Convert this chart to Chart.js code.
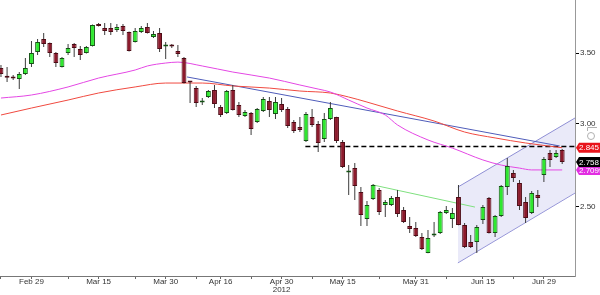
<!DOCTYPE html>
<html>
<head>
<meta charset="utf-8">
<title>Candles 2012</title>
<script src="https://cdn.jsdelivr.net/npm/chart.js@4.4.1/dist/chart.umd.min.js"></script>
<style>
  html, body { margin: 0; padding: 0; background: #fff; }
  .chartbox { position: relative; width: 600px; height: 295px; }
</style>
</head>
<body>
<div class="chartbox"><canvas id="chart"></canvas></div>
<script>
// trading days shown on the chart
const dates = ['Feb 22','Feb 23','Feb 24','Feb 27','Feb 28','Feb 29',
  'Mar 1','Mar 2','Mar 5','Mar 6','Mar 7','Mar 8','Mar 9','Mar 12','Mar 13','Mar 14','Mar 15','Mar 16','Mar 19','Mar 20','Mar 21','Mar 22','Mar 23','Mar 26','Mar 27','Mar 28','Mar 29','Mar 30',
  'Apr 2','Apr 3','Apr 4','Apr 5','Apr 10','Apr 11','Apr 12','Apr 13','Apr 16','Apr 17','Apr 18','Apr 19','Apr 20','Apr 23','Apr 24','Apr 25','Apr 26','Apr 27','Apr 30',
  'May 2','May 3','May 4','May 7','May 8','May 9','May 10','May 11','May 14','May 15','May 16','May 17','May 18','May 21','May 22','May 23','May 24','May 25','May 28','May 29','May 30','May 31',
  'Jun 1','Jun 4','Jun 5','Jun 6','Jun 7','Jun 8','Jun 11','Jun 12','Jun 13','Jun 14','Jun 15','Jun 18','Jun 19','Jun 20','Jun 21','Jun 22','Jun 25','Jun 26','Jun 27','Jun 28','Jun 29',
  'Jul 2','Jul 3','Jul 4'];

const open = [3.389,3.326,3.319,3.308,3.344,3.419,3.510,3.611,3.580,3.502,
  3.396,3.502,3.572,3.533,3.502,3.556,3.732,3.700,3.700,3.683,
  3.716,3.667,3.588,3.667,3.708,3.627,3.659,3.552,3.560,3.518,
  3.464,3.290,3.243,3.142,3.180,3.229,3.111,3.070,3.229,3.125,
  3.050,3.070,3.010,3.084,3.152,3.064,3.131,3.097,3.010,2.978,
  2.887,3.044,2.997,2.900,3.030,3.044,2.881,2.695,2.721,2.582,
  2.433,2.543,2.593,2.509,2.509,2.554,2.482,2.396,2.386,2.339,
  2.259,2.347,2.360,2.466,2.433,2.554,2.402,2.314,2.314,2.428,
  2.548,2.360,2.450,2.610,2.692,2.633,2.526,2.466,2.565,2.680,
  2.812,2.788,2.831];
const high = [3.411,3.396,3.337,3.359,3.464,3.596,3.611,3.659,3.584,3.510,
  3.472,3.572,3.580,3.556,3.556,3.728,3.740,3.740,3.740,3.732,
  3.732,3.671,3.700,3.716,3.740,3.675,3.700,3.588,3.572,3.564,
  3.472,3.292,3.258,3.173,3.229,3.265,3.125,3.229,3.265,3.145,
  3.091,3.077,3.104,3.180,3.180,3.180,3.173,3.111,3.023,3.044,
  3.077,3.097,3.017,3.070,3.145,3.046,2.894,2.739,2.751,2.610,
  2.531,2.628,2.605,2.537,2.559,2.593,2.498,2.444,2.417,2.360,
  2.376,2.417,2.477,2.504,2.493,2.622,2.412,2.350,2.402,2.509,
  2.554,2.455,2.622,2.782,2.710,2.651,2.554,2.588,2.593,2.788,
  2.831,2.831,2.837];
const low = [3.323,3.286,3.301,3.236,3.337,3.396,3.487,3.549,3.472,3.396,
  3.392,3.487,3.472,3.449,3.498,3.552,3.712,3.643,3.643,3.667,
  3.643,3.514,3.584,3.659,3.655,3.619,3.510,3.456,3.541,3.472,
  3.275,3.138,3.111,3.125,3.173,3.104,3.044,3.064,3.088,3.044,
  3.044,2.926,3.004,3.077,3.044,3.030,3.077,2.971,2.939,2.945,
  2.881,2.978,2.819,2.881,3.023,2.875,2.721,2.565,2.537,2.396,
  2.396,2.537,2.455,2.444,2.504,2.444,2.412,2.360,2.339,2.273,
  2.257,2.339,2.355,2.460,2.386,2.400,2.283,2.283,2.259,2.407,
  2.357,2.339,2.444,2.565,2.639,2.482,2.412,2.460,2.498,2.639,
  2.727,2.782,2.745];
const close = [3.344,3.318,3.311,3.344,3.389,3.502,3.588,3.572,3.502,3.426,
  3.464,3.541,3.541,3.487,3.549,3.724,3.716,3.675,3.667,3.708,
  3.675,3.518,3.675,3.700,3.659,3.651,3.533,3.560,3.552,3.495,
  3.279,3.282,3.138,3.150,3.222,3.131,3.057,3.222,3.091,3.057,
  3.077,2.964,3.097,3.166,3.091,3.145,3.091,2.984,2.951,2.958,
  3.064,2.991,2.875,3.030,3.104,2.887,2.727,2.701,2.616,2.455,
  2.509,2.622,2.471,2.526,2.548,2.460,2.417,2.381,2.344,2.278,
  2.334,2.353,2.471,2.482,2.466,2.402,2.288,2.288,2.391,2.498,
  2.360,2.450,2.616,2.734,2.662,2.504,2.439,2.576,2.548,2.776,
  2.770,2.812,2.758];

// moving averages (magenta = short, red = long), read at some days
const maShortIdx = [0,5,11,16,22,24,27,29,33,38,44,49,52,54,57,60,63,65,70,74,79,82,85,87,92];
const maShort = [3.173,3.194,3.251,3.315,3.374,3.404,3.426,3.433,3.404,3.359,3.315,3.265,3.236,3.215,3.159,3.104,3.057,2.991,2.894,2.843,2.770,2.739,2.721,2.710,2.7099];
const maLongIdx = [0,5,11,16,22,27,30,33,38,44,49,54,57,60,65,71,76,81,86,91,92];
const maLong = [3.057,3.104,3.159,3.208,3.251,3.279,3.279,3.279,3.258,3.243,3.222,3.208,3.180,3.145,3.084,3.017,2.945,2.907,2.875,2.850,2.845];

// drawn studies
const trendX = [30.5, 91.6];
const trendY = [3.323, 2.856];
const greenX = [61, 77.7];
const greenY = [2.622, 2.498];
const levelX = [49.9, 94.1];
const levelY = [2.853, 2.853];
const chanX = [74.9, 94.1];
const chanHigh = [2.610, 3.037];
const chanLow = [2.210, 2.576];

// axes
const tickDates = ['Feb 22','Feb 29','Mar 8','Mar 15','Mar 23','Mar 30','Apr 10','Apr 16','Apr 23','Apr 30','May 8','May 15','May 23','May 31','Jun 7','Jun 15','Jun 22','Jun 29'];
const labelDates = ['Feb 29','Mar 15','Mar 30','Apr 16','Apr 30','May 15','May 31','Jun 15','Jun 29'];
const yearDate = 'Apr 30';
const yearText = '2012';
const yTicks = [2.5, 3.0, 3.5];
const xMin = -0.16;
const xMax = 94.1;
const yMin = 2.1475;
const yMax = 3.934;

const FONT = '"Liberation Sans", Arial, sans-serif';
Chart.defaults.font.family = FONT;

const pts = (xs, ys) => xs.map((x, i) => ({ x, y: ys[i] }));
const up = close.map((c, i) => c >= open[i]);

const tags = [
  { value: maShort[maShort.length - 1], text: maShort[maShort.length - 1].toFixed(4), color: '#e22ee2' },
  { value: close[close.length - 1], text: close[close.length - 1].toFixed(3), color: '#000000' },
  { value: maLong[maLong.length - 1], text: maLong[maLong.length - 1].toFixed(3), color: '#e8141c' },
];

const tagPlugin = {
  id: 'tags',
  afterDraw: (chart) => {
    const { ctx } = chart;
    const ys = chart.scales.y;
    const left = chart.chartArea.right;
    const right = chart.width;
    ctx.save();
    ctx.font = '8px ' + FONT;
    ctx.textBaseline = 'middle';
    tags.forEach((t) => {
      const py = ys.getPixelForValue(t.value);
      ctx.fillStyle = t.color;
      ctx.beginPath();
      ctx.moveTo(left + 1, py);
      ctx.lineTo(left + 4, py - 5);
      ctx.lineTo(right, py - 5);
      ctx.lineTo(right, py + 5);
      ctx.lineTo(left + 4, py + 5);
      ctx.closePath();
      ctx.fill();
      ctx.fillStyle = '#fff';
      ctx.fillText(t.text, left + 4, py + 0.5);
    });
    // little zoom knob on the price axis
    ctx.strokeStyle = '#b0b0b0';
    ctx.lineWidth = 1;
    ctx.beginPath();
    ctx.arc(591, 136, 3.5, 0, Math.PI * 2);
    ctx.stroke();
    ctx.beginPath();
    ctx.moveTo(587.5, 131);
    ctx.lineTo(587.5, 127.5);
    ctx.lineTo(597, 127.5);
    ctx.stroke();
    ctx.restore();
  },
};

const tickText = (v) => {
  const d = dates[v];
  if (!labelDates.includes(d)) return '';
  return d === yearDate ? [d, yearText] : d;
};

const lineSet = (data, color, extra) => Object.assign({
  type: 'line', data, borderColor: color, borderWidth: 1, pointRadius: 0,
  tension: 0.4, cubicInterpolationMode: 'monotone', fill: false, order: 2,
}, extra || {});

new Chart(document.getElementById('chart').getContext('2d'), {
  type: 'bar',
  data: {
    datasets: [
      {
        label: 'body',
        data: dates.map((d, i) => ({ x: i, y: [open[i], close[i]] })),
        backgroundColor: up.map((u) => (u ? '#2fe82f' : '#8c1a2c')),
        borderColor: up.map((u) => (u ? '#145214' : '#4e0c16')),
        borderWidth: 1,
        borderSkipped: false,
        grouped: false,
        barPercentage: 1,
        categoryPercentage: 0.8,
        maxBarThickness: 5,
        minBarLength: 2,
        order: 0,
      },
      {
        label: 'wick',
        data: dates.map((d, i) => ({ x: i, y: [low[i], high[i]] })),
        backgroundColor: '#3c3c3c',
        grouped: false,
        maxBarThickness: 1,
        order: 1,
      },
      lineSet(pts(maShortIdx, maShort), '#e447e4'),
      lineSet(pts(maLongIdx, maLong), '#f04a40'),
      lineSet(pts(trendX, trendY), '#4f5cba', { tension: 0 }),
      lineSet(pts(greenX, greenY), '#7fe07f', { tension: 0 }),
      lineSet(pts(levelX, levelY), '#000', { tension: 0, borderWidth: 1.3, borderDash: [5, 3] }),
      lineSet(pts(chanX, chanHigh), '#8e8ed4', { tension: 0, fill: '+1', backgroundColor: 'rgba(196,196,238,0.36)', order: 5 }),
      lineSet(pts(chanX, chanLow), '#8e8ed4', { tension: 0, order: 5 }),
    ],
  },
  options: {
    responsive: true,
    maintainAspectRatio: false,
    animation: false,
    layout: { padding: 0 },
    plugins: { legend: { display: false }, tooltip: { enabled: false } },
    scales: {
      x: {
        type: 'linear',
        min: xMin,
        max: xMax,
        offset: false,
        grid: { display: true, drawOnChartArea: false, drawTicks: true, tickLength: 3, tickColor: '#666', offset: false },
        border: { color: '#777' },
        ticks: {
          autoSkip: false, maxRotation: 0, padding: -1, color: '#333',
          font: { size: 8, lineHeight: 1 },
          callback: (v) => tickText(v),
        },
        afterBuildTicks: (s) => { s.ticks = tickDates.map((d) => ({ value: dates.indexOf(d) })); },
        afterFit: (s) => { s.height = 19; s.paddingLeft = 0; s.paddingRight = 0; },
      },
      y: {
        type: 'logarithmic',
        position: 'right',
        min: yMin,
        max: yMax,
        beginAtZero: false,
        grid: { drawOnChartArea: false, tickLength: 4, tickColor: '#000' },
        border: { color: '#999' },
        ticks: {
          autoSkip: false, padding: 1, color: '#333',
          font: { size: 8 },
          callback: (v) => Number(v).toFixed(2),
        },
        afterBuildTicks: (s) => { s.ticks = yTicks.map((v) => ({ value: v })); },
        afterFit: (s) => { s.width = 25; s.paddingTop = 0; s.paddingBottom = 0; },
      },
    },
  },
  plugins: [tagPlugin],
});
</script>
</body>
</html>
